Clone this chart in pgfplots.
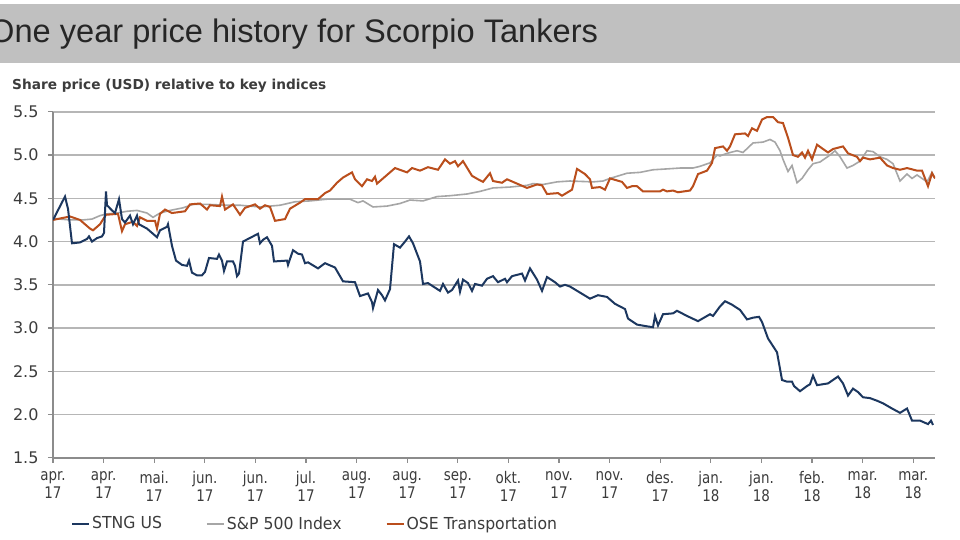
\documentclass[border=0pt]{standalone}
\usepackage{fontspec}
\usepackage{pgfplots}
\pgfplotsset{compat=1.18}
\setmainfont{DejaVu Sans}
\newfontfamily\condfont[FakeStretch=0.84]{DejaVu Sans}
\newfontfamily\legfont[FakeStretch=0.95]{DejaVu Sans}
\newfontfamily\titlefont{Liberation Sans}
\definecolor{stng}{RGB}{28,55,95}
\definecolor{spx}{RGB}{166,166,166}
\definecolor{ose}{RGB}{186,78,28}
\definecolor{band}{RGB}{192,192,192}
\definecolor{gridc}{RGB}{182,182,182}
\definecolor{axc}{RGB}{140,140,140}
\definecolor{txt}{RGB}{60,60,60}
\definecolor{ttl}{RGB}{38,38,38}
\begin{document}
\begin{tikzpicture}[x=1bp,y=1bp]
\useasboundingbox (0,0) rectangle (960,540);
\fill[white] (0,0) rectangle (960,540);
\fill[band] (0,477) rectangle (960,536);
\node[anchor=base west, inner sep=0, text=ttl, font=\titlefont\fontsize{32.6bp}{36bp}\selectfont] at (-11,497) {One year price history for Scorpio Tankers};
\node[anchor=base west, inner sep=0, text=txt, font=\bfseries\fontsize{13.7bp}{16bp}\selectfont] at (12,450) {Share price (USD) relative to key indices};
\begin{axis}[
  at={(53,95)}, anchor=south west, scale only axis,
  width=882bp, height=346bp,
  xmin=53, xmax=935, ymin=1.5, ymax=5.5,
  axis lines*=left,
  axis line style={axc, line width=1.5bp},
  ymajorgrids, grid style={gridc, line width=1.4bp},
  xtick={53,103.6,154.2,204.8,255.4,306,356.6,407.2,457.8,508.4,559,609.6,660.2,710.8,761.4,812,862.6,913.2},
  xticklabels={{apr.\\17},{apr.\\17},{mai.\\17},{jun.\\17},{jun.\\17},{jul.\\17},{aug.\\17},{aug.\\17},{sep.\\17},{okt.\\17},{nov.\\17},{nov.\\17},{des.\\17},{jan.\\18},{jan.\\18},{feb.\\18},{mar.\\18},{mar.\\18}},
  xticklabel style={align=center, font=\condfont\fontsize{16bp}{18.5bp}\selectfont, text=txt, yshift=-5bp},
  ytick={1.5,2,2.5,3,3.5,4,4.5,5,5.5},
  yticklabel style={font=\fontsize{16bp}{18bp}\selectfont, text=txt, xshift=-6bp, /pgf/number format/.cd, fixed, fixed zerofill, precision=1},
  /pgf/number format/assume math mode=true,
  tick align=outside,
  x tick style={axc, line width=1.2bp}, y tick style={axc, line width=1.2bp},
  major tick length=5bp,
  legend columns=3,
  legend style={at={(0.017,-0.19)}, anchor=west, draw=none, fill=none,
    font=\legfont\fontsize{16.5bp}{19bp}\selectfont, text=txt,
    nodes={inner sep=2bp},
    /tikz/every even column/.append style={column sep=42bp}},
  legend image code/.code={\draw[#1] (0bp,0bp) -- (17bp,0bp);},
]
\addlegendimage{stng, line width=2bp}
\addlegendentry{STNG US}
\addlegendimage{spx, line width=2bp}
\addlegendentry{S\&P 500 Index}
\addlegendimage{ose, line width=2bp}
\addlegendentry{OSE Transportation}

\addplot[spx, line width=1.6bp, forget plot] coordinates {
(53,4.27) (60,4.26) (70,4.25) (83,4.25) (92,4.26) (100,4.30) (107,4.32) (117,4.33) (127,4.35) (137,4.36)
(147,4.33) (153,4.28) (160,4.33) (170,4.36) (183,4.39) (193,4.43) (207,4.43) (227,4.42) (240,4.42) (260,4.40)
(280,4.42) (295,4.46) (310,4.47) (327,4.49) (350,4.49) (358,4.45) (363,4.47) (373,4.40) (387,4.41) (400,4.44)
(410,4.48) (423,4.47) (437,4.52) (450,4.53) (467,4.55) (480,4.58) (493,4.62) (510,4.63) (527,4.65) (533,4.67)
(543,4.66) (557,4.69) (570,4.70) (593,4.69) (603,4.70) (610,4.73) (627,4.79) (640,4.80) (653,4.83) (667,4.84)
(680,4.85) (693,4.85) (700,4.87) (710,4.91) (717,5.00) (720,4.99) (727,5.02) (737,5.05) (743,5.03) (753,5.14)
(763,5.15) (770,5.18) (775,5.15) (780,5.05) (783,4.95) (788,4.81) (792,4.88) (797,4.68) (802,4.73) (808,4.83)
(813,4.90) (820,4.92) (830,5.00) (835,5.05) (840,4.98) (847,4.85) (853,4.88) (860,4.93) (867,5.05) (873,5.04)
(880,4.98) (887,4.95) (893,4.90) (900,4.70) (907,4.78) (912,4.73) (917,4.77) (927,4.69) (932,4.80) (935,4.73)
};
\addplot[ose, line width=2bp, forget plot] coordinates {
(53,4.25) (70,4.29) (80,4.25) (90,4.15) (93,4.13) (100,4.20) (106,4.31) (118,4.32) (122,4.12) (125,4.20)
(133,4.23) (137,4.18) (140,4.28) (147,4.24) (155,4.24) (157,4.15) (160,4.32) (165,4.37) (172,4.33) (185,4.35)
(190,4.43) (200,4.44) (207,4.37) (210,4.42) (220,4.41) (222,4.52) (225,4.37) (233,4.43) (240,4.31) (245,4.39)
(255,4.43) (260,4.38) (265,4.42) (270,4.40) (275,4.24) (285,4.26) (290,4.38) (300,4.45) (305,4.49) (318,4.49)
(325,4.56) (330,4.59) (337,4.68) (343,4.74) (352,4.80) (355,4.72) (362,4.64) (367,4.72) (372,4.70) (375,4.75)
(377,4.67) (385,4.75) (395,4.85) (407,4.80) (412,4.85) (420,4.82) (428,4.86) (438,4.83) (445,4.95) (450,4.90)
(455,4.93) (458,4.87) (463,4.93) (472,4.76) (478,4.72) (483,4.69) (490,4.79) (493,4.70) (502,4.68) (507,4.72)
(515,4.68) (527,4.62) (537,4.66) (542,4.65) (547,4.55) (558,4.56) (562,4.53) (572,4.60) (577,4.84) (585,4.78)
(590,4.72) (592,4.62) (600,4.63) (605,4.60) (610,4.73) (622,4.69) (627,4.62) (632,4.64) (637,4.64) (643,4.58)
(660,4.58) (663,4.60) (667,4.58) (673,4.59) (678,4.57) (690,4.59) (693,4.64) (698,4.78) (707,4.82) (712,4.91)
(715,5.08) (723,5.10) (727,5.05) (730,5.10) (735,5.24) (745,5.25) (748,5.22) (752,5.31) (757,5.28) (762,5.41)
(767,5.44) (773,5.44) (778,5.38) (783,5.37) (788,5.20) (791,5.08) (793,5.00) (798,4.98) (802,5.03) (805,4.97)
(808,5.05) (812,4.95) (817,5.12) (823,5.07) (828,5.03) (833,5.07) (843,5.10) (848,5.02) (857,4.98) (860,4.93)
(863,4.97) (870,4.95) (880,4.97) (887,4.88) (893,4.85) (900,4.83) (907,4.85) (917,4.82) (922,4.82) (928,4.64)
(932,4.79) (935,4.73)
};
\addplot[stng, line width=2bp, forget plot] coordinates {
(53,4.25) (65,4.52) (68,4.38) (72,3.98) (80,3.99) (87,4.03) (89,4.06) (92,4.00) (97,4.04) (102,4.06)
(104,4.10) (106,4.58) (107,4.42) (112,4.36) (115,4.33) (119,4.49) (122,4.26) (125,4.22) (130,4.30) (133,4.20)
(137,4.30) (139,4.20) (147,4.15) (157,4.05) (160,4.13) (167,4.17) (168,4.20) (172,3.95) (176,3.78) (182,3.73)
(187,3.72) (189,3.78) (192,3.64) (197,3.61) (202,3.61) (205,3.65) (209,3.81) (217,3.80) (219,3.85) (222,3.78)
(224,3.66) (227,3.77) (233,3.77) (235,3.72) (237,3.60) (239,3.63) (243,4.00) (253,4.06) (258,4.09) (260,3.98)
(263,4.02) (267,4.05) (272,3.95) (274,3.77) (287,3.78) (288,3.73) (293,3.90) (298,3.86) (302,3.85) (305,3.75)
(308,3.76) (318,3.69) (325,3.75) (335,3.70) (343,3.54) (355,3.53) (360,3.37) (368,3.40) (372,3.30) (373,3.23)
(378,3.44) (382,3.38) (385,3.32) (390,3.45) (394,3.97) (400,3.93) (405,4.00) (409,4.06) (413,3.98) (420,3.77)
(423,3.51) (428,3.52) (440,3.43) (443,3.51) (448,3.41) (452,3.44) (458,3.55) (460,3.42) (463,3.56) (468,3.52)
(472,3.43) (475,3.51) (482,3.49) (487,3.57) (493,3.60) (498,3.53) (505,3.57) (507,3.53) (512,3.60) (522,3.63)
(525,3.55) (530,3.69) (537,3.56) (542,3.43) (547,3.59) (555,3.53) (560,3.48) (565,3.50) (570,3.48) (580,3.41)
(590,3.34) (598,3.38) (607,3.36) (615,3.28) (625,3.22) (628,3.11) (637,3.04) (647,3.02) (653,3.01) (655,3.14)
(658,3.03) (663,3.16) (673,3.17) (677,3.20) (687,3.14) (698,3.08) (710,3.16) (713,3.14) (720,3.25) (725,3.31)
(732,3.27) (740,3.21) (747,3.10) (753,3.12) (759,3.13) (762,3.07) (768,2.88) (777,2.72) (782,2.40) (787,2.38)
(792,2.38) (794,2.33) (800,2.27) (807,2.33) (810,2.35) (813,2.45) (817,2.34) (828,2.36) (838,2.44) (843,2.36)
(848,2.22) (853,2.30) (858,2.26) (863,2.20) (870,2.19) (877,2.16) (883,2.13) (892,2.07) (900,2.02) (907,2.07)
(912,1.93) (920,1.93) (928,1.89) (931,1.93) (933,1.88)
};
\end{axis}
\end{tikzpicture}
\end{document}
